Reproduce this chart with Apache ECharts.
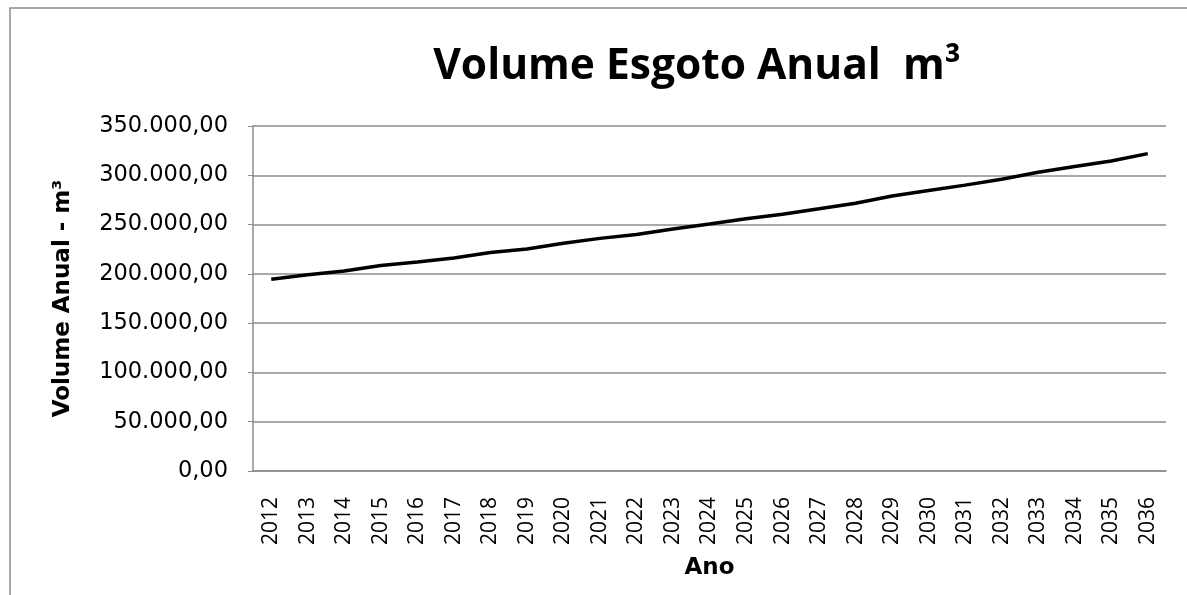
<!DOCTYPE html>
<html><head><meta charset="utf-8">
<script src="https://cdn.jsdelivr.net/npm/echarts@6/dist/echarts.min.js"></script>
<style>html,body{margin:0;padding:0;background:#fff}#c{width:1187px;height:595px}</style>
</head><body><div id="c"></div>
<script>
const years = ['2012','2013','2014','2015','2016','2017','2018','2019','2020','2021','2022','2023','2024','2025','2026','2027','2028','2029','2030','2031','2032','2033','2034','2035','2036'];
const volume = [194600,199000,203000,208400,212000,216000,221600,225300,231000,236000,240000,245500,250500,256000,260500,266000,271600,279000,284500,290000,296000,303000,309000,314500,322000];
const titleText = 'Volume Esgoto Anual  m\u00b3';
const yName = 'Volume Anual - m\u00b3';
const xName = 'Ano';

function fmt(v){
  const s = Math.round(v).toString().replace(/\B(?=(\d{3})+(?!\d))/g,'.');
  return s + ',00';
}
const chart = echarts.init(document.getElementById('c'));
chart.setOption({
  animation:false,
  backgroundColor:'#fff',
  graphic:[{type:'rect',shape:{x:10,y:8,width:1200,height:620},style:{fill:'none',stroke:'#8c8c8c',lineWidth:1.5},silent:true}],
  title:{text:titleText,left:692,top:40,textAlign:'center',textStyle:{fontFamily:'Open Sans',fontWeight:'bold',fontSize:42.5,color:'#000'}},
  grid:{left:253,right:21,top:126,bottom:124},
  xAxis:{type:'category',data:years,boundaryGap:true,
    name:xName,nameLocation:'middle',nameGap:86,
    nameTextStyle:{fontFamily:'DejaVu Sans',fontWeight:'bold',fontSize:23,color:'#000'},
    axisLine:{lineStyle:{color:'#8c8c8c',width:1.5}},axisTick:{show:false},
    axisLabel:{rotate:90,fontFamily:'Open Sans',fontSize:21,color:'#000',margin:26}},
  yAxis:{type:'value',min:0,max:350000,interval:50000,
    name:yName,nameLocation:'middle',nameGap:178,nameRotate:90,
    nameTextStyle:{fontFamily:'DejaVu Sans',fontWeight:'bold',fontSize:23,color:'#000'},
    axisLine:{show:true,lineStyle:{color:'#8c8c8c',width:1.5}},
    axisTick:{show:true,length:5,lineStyle:{color:'#8c8c8c'}},
    splitLine:{lineStyle:{color:'#8c8c8c',width:1.5}},
    axisLabel:{formatter:fmt,fontFamily:'DejaVu Sans',fontSize:22.5,color:'#000',margin:25}},
  series:[{type:'line',data:volume,showSymbol:false,smooth:false,lineStyle:{color:'#000',width:3.5}}]
});
</script></body></html>
